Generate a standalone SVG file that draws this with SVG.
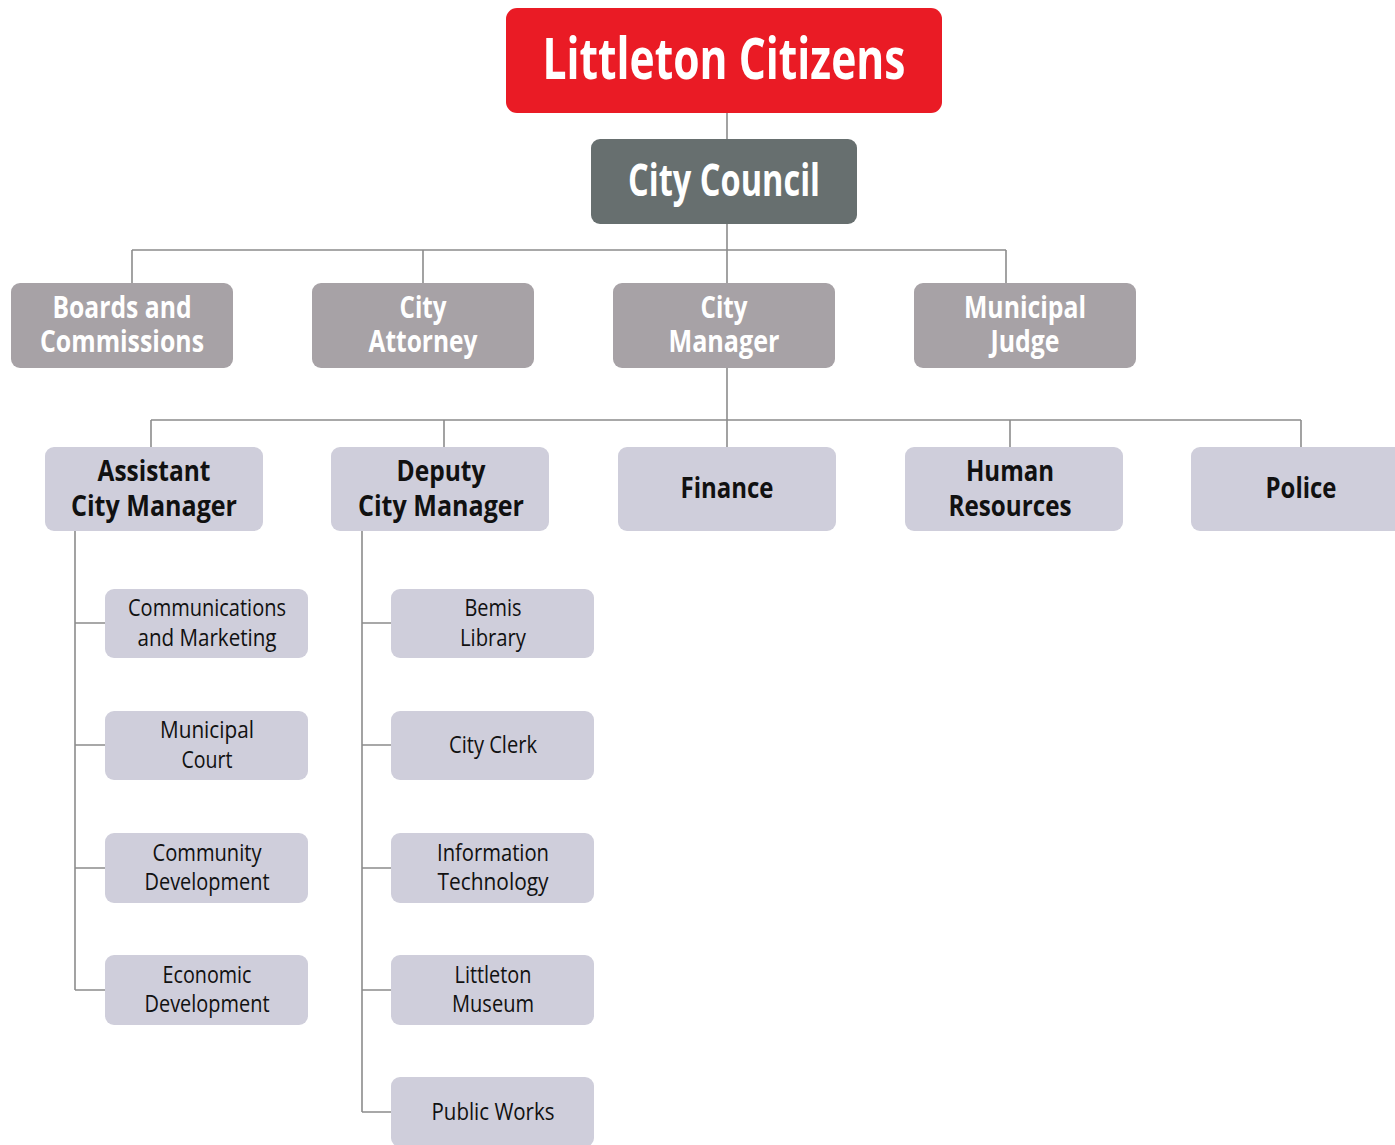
<svg xmlns="http://www.w3.org/2000/svg" width="1395" height="1145" viewBox="0 0 1395 1145">
<style>
.ln{stroke:#8c8c8c;stroke-width:1.6;fill:none}
text{font-family:"Open Sans","Liberation Sans",sans-serif;text-anchor:middle}
.top{fill:#ea1b25}
.cc{fill:#676f6f}
.r2{fill:#a7a2a6}
.r3{fill:#cfcedb}
.sub{fill:#cfcedb}
.tw{fill:#fff;font-weight:700}
.tb{fill:#111;font-weight:700}
.ts{fill:#111;font-weight:400;font-size:24px}
</style>
<rect width="1395" height="1145" fill="#fff"/>
<g id="connectors">
<path class="ln" d="M727 113V139M727 224V283M132 250H1006M132 250V283M423 250V283M1006 250V283"/>
<path class="ln" d="M727 368V447M151 420H1301M151 420V447M444 420V447M1010 420V447M1301 420V447"/>
<path class="ln" d="M75 531V990M75 623H105M75 745H105M75 868H105M75 990H105"/>
<path class="ln" d="M362 531V1112M362 623H391M362 745H391M362 868H391M362 990H391M362 1112H391"/>
</g>
<g id="littleton-citizens"><rect class="top" x="506" y="8" width="436" height="105" rx="11"/>
<text class="tw" x="724" y="79" font-size="57" textLength="363" lengthAdjust="spacingAndGlyphs">Littleton Citizens</text></g>
<g id="city-council"><rect class="cc" x="591" y="139" width="266" height="85" rx="9"/>
<text class="tw" x="724" y="196" font-size="45" textLength="192" lengthAdjust="spacingAndGlyphs">City Council</text></g>

<g id="boards"><rect class="r2" x="11" y="283" width="222" height="85" rx="9"/>
<text class="tw" font-size="31"><tspan x="122" y="318" textLength="139" lengthAdjust="spacingAndGlyphs">Boards and</tspan><tspan x="122" y="352" textLength="164" lengthAdjust="spacingAndGlyphs">Commissions</tspan></text></g>
<g id="city-attorney"><rect class="r2" x="312" y="283" width="222" height="85" rx="9"/>
<text class="tw" font-size="31"><tspan x="423" y="318" textLength="47" lengthAdjust="spacingAndGlyphs">City</tspan><tspan x="423" y="352" textLength="109" lengthAdjust="spacingAndGlyphs">Attorney</tspan></text></g>
<g id="city-manager"><rect class="r2" x="613" y="283" width="222" height="85" rx="9"/>
<text class="tw" font-size="31"><tspan x="724" y="318" textLength="47" lengthAdjust="spacingAndGlyphs">City</tspan><tspan x="724" y="352" textLength="111" lengthAdjust="spacingAndGlyphs">Manager</tspan></text></g>
<g id="municipal-judge"><rect class="r2" x="914" y="283" width="222" height="85" rx="9"/>
<text class="tw" font-size="31"><tspan x="1025" y="318" textLength="122" lengthAdjust="spacingAndGlyphs">Municipal</tspan><tspan x="1025" y="352" textLength="69" lengthAdjust="spacingAndGlyphs">Judge</tspan></text></g>

<g id="assistant-city-manager"><rect class="r3" x="45" y="447" width="218" height="84" rx="9"/>
<text class="tb" font-size="29"><tspan x="154" y="481" textLength="113" lengthAdjust="spacingAndGlyphs">Assistant</tspan><tspan x="154" y="516" textLength="166" lengthAdjust="spacingAndGlyphs">City Manager</tspan></text></g>
<g id="deputy-city-manager"><rect class="r3" x="331" y="447" width="218" height="84" rx="9"/>
<text class="tb" font-size="29"><tspan x="441" y="481" textLength="89" lengthAdjust="spacingAndGlyphs">Deputy</tspan><tspan x="441" y="516" textLength="166" lengthAdjust="spacingAndGlyphs">City Manager</tspan></text></g>
<g id="finance"><rect class="r3" x="618" y="447" width="218" height="84" rx="9"/>
<text class="tb" font-size="29" x="727" y="498" textLength="93" lengthAdjust="spacingAndGlyphs">Finance</text></g>
<g id="human-resources"><rect class="r3" x="905" y="447" width="218" height="84" rx="9"/>
<text class="tb" font-size="29"><tspan x="1010" y="481" textLength="88" lengthAdjust="spacingAndGlyphs">Human</tspan><tspan x="1010" y="516" textLength="123" lengthAdjust="spacingAndGlyphs">Resources</tspan></text></g>
<g id="police"><rect class="r3" x="1191" y="447" width="218" height="84" rx="9"/>
<text class="tb" font-size="29" x="1301" y="498" textLength="71" lengthAdjust="spacingAndGlyphs">Police</text></g>

<g id="communications"><rect class="sub" x="105" y="589" width="203" height="69" rx="9"/>
<text class="ts"><tspan x="207" y="616" textLength="158" lengthAdjust="spacingAndGlyphs">Communications</tspan><tspan x="207" y="646" textLength="139" lengthAdjust="spacingAndGlyphs">and Marketing</tspan></text></g>
<g id="municipal-court"><rect class="sub" x="105" y="711" width="203" height="69" rx="9"/>
<text class="ts"><tspan x="207" y="738" textLength="94" lengthAdjust="spacingAndGlyphs">Municipal</tspan><tspan x="207" y="768" textLength="51" lengthAdjust="spacingAndGlyphs">Court</tspan></text></g>
<g id="community-development"><rect class="sub" x="105" y="833" width="203" height="70" rx="9"/>
<text class="ts"><tspan x="207" y="861" textLength="109" lengthAdjust="spacingAndGlyphs">Community</tspan><tspan x="207" y="890" textLength="125" lengthAdjust="spacingAndGlyphs">Development</tspan></text></g>
<g id="economic-development"><rect class="sub" x="105" y="955" width="203" height="70" rx="9"/>
<text class="ts"><tspan x="207" y="983" textLength="89" lengthAdjust="spacingAndGlyphs">Economic</tspan><tspan x="207" y="1012" textLength="125" lengthAdjust="spacingAndGlyphs">Development</tspan></text></g>

<g id="bemis-library"><rect class="sub" x="391" y="589" width="203" height="69" rx="9"/>
<text class="ts"><tspan x="493" y="616" textLength="57" lengthAdjust="spacingAndGlyphs">Bemis</tspan><tspan x="493" y="646" textLength="66" lengthAdjust="spacingAndGlyphs">Library</tspan></text></g>
<g id="city-clerk"><rect class="sub" x="391" y="711" width="203" height="69" rx="9"/>
<text class="ts" x="493" y="753" textLength="88" lengthAdjust="spacingAndGlyphs">City Clerk</text></g>
<g id="information-technology"><rect class="sub" x="391" y="833" width="203" height="70" rx="9"/>
<text class="ts"><tspan x="493" y="861" textLength="112" lengthAdjust="spacingAndGlyphs">Information</tspan><tspan x="493" y="890" textLength="111" lengthAdjust="spacingAndGlyphs">Technology</tspan></text></g>
<g id="littleton-museum"><rect class="sub" x="391" y="955" width="203" height="70" rx="9"/>
<text class="ts"><tspan x="493" y="983" textLength="77" lengthAdjust="spacingAndGlyphs">Littleton</tspan><tspan x="493" y="1012" textLength="82" lengthAdjust="spacingAndGlyphs">Museum</tspan></text></g>
<g id="public-works"><rect class="sub" x="391" y="1077" width="203" height="70" rx="9"/>
<text class="ts" x="493" y="1120" textLength="123" lengthAdjust="spacingAndGlyphs">Public Works</text></g>
</svg>
